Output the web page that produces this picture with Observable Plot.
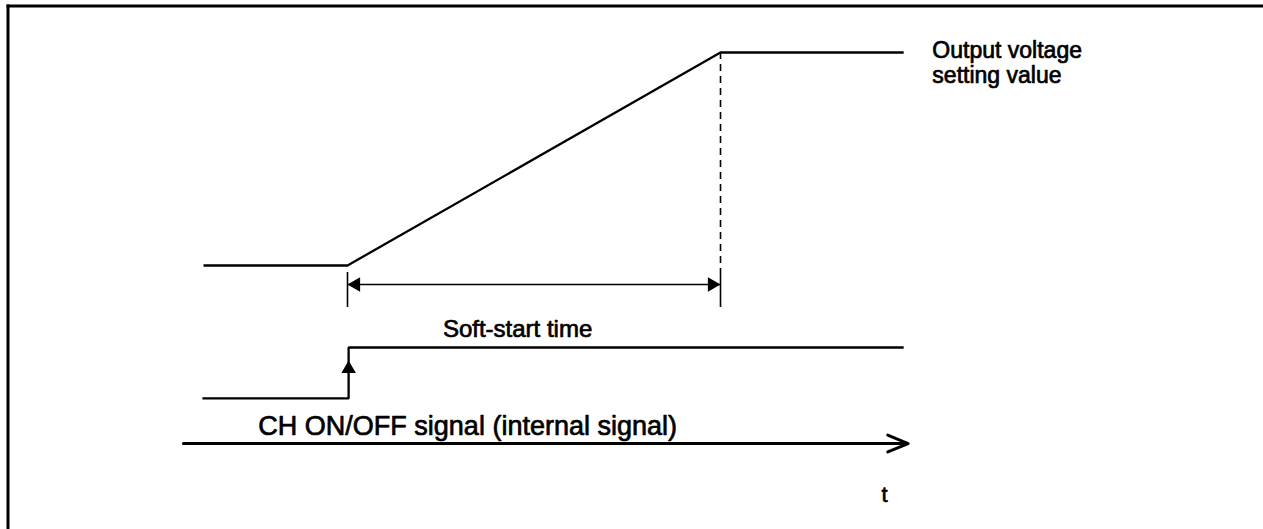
<!DOCTYPE html>
<html><head><meta charset="utf-8">
<script src="https://cdn.jsdelivr.net/npm/d3@7"></script>
<script src="https://cdn.jsdelivr.net/npm/@observablehq/plot@0.6"></script>
<style>
html,body{margin:0;padding:0;background:#fff;overflow:hidden;width:1263px;height:529px;}
#chart{position:absolute;left:0;top:0;}
</style></head><body>
<div id="chart"></div>
<script>
// Time unit: soft-start time = 1 (t = 0 when CH turns ON).
// Level unit: output voltage setting value = 1, initial output = 0.
const outT = [-0.386, 0, 1, 1.491];
const outV = [0, 0, 1, 1];
const sigT = [-0.389, 0.003, 0.003, 1.491];
const sigV = [-0.624, -0.624, -0.385, -0.385];
const axisT = [-0.44, 1.503];
const axisV = -0.836;
const spanT = [0, 1];
const spanV = -0.089;
const tickT = [0, 1];
const tickTop = [-0.033, -0.023];
const tickBottom = -0.197;
const dashTop = 1;
const upArrowV = -0.446;
// labels anchored at their left edge
const startText = ["Output voltage", "setting value", "CH ON/OFF signal (internal signal)"];
const startT = [1.568, 1.568, -0.239];
const startV = [0.972, 0.857, -0.795];
const startSize = [23, 23, 27];
// labels anchored at their centre
const midText = ["Soft-start time", "t"];
const midT = [0.456, 1.44];
const midV = [-0.338, -1.108];
const midSize = [24, 22];

const outLine = outT.map((t, i) => ({t, v: outV[i]}));
const sigLine = sigT.map((t, i) => ({t, v: sigV[i]}));
const startLabels = startText.map((text, i) => ({text, t: startT[i], v: startV[i], size: startSize[i]}));
const midLabels = midText.map((text, i) => ({text, t: midT[i], v: midV[i], size: midSize[i]}));
const ticks = tickT.map((t, i) => ({t, top: tickTop[i], bottom: tickBottom}));

const r = 5.4, off = 2 * 0.7776 * r;
const font = "'Liberation Sans', Arial, sans-serif";
const textStyle = {x: "t", y: "v", text: "text", fontSize: "size", lineAnchor: "bottom", fill: "#000", stroke: "#000", strokeWidth: 0.7, fontFamily: font};

const chart = Plot.plot({
  width: 1263,
  height: 529,
  marginTop: 5.5,
  marginLeft: 7.5,
  marginRight: -10,
  marginBottom: -10,
  x: {domain: [0, 1], range: [347, 720]},
  y: {domain: [0, 1], range: [265, 52]},
  axis: null,
  style: {background: "#fff", fontFamily: font},
  marks: [
    Plot.frame({anchor: "top", stroke: "#000", strokeWidth: 3}),
    Plot.frame({anchor: "left", stroke: "#000", strokeWidth: 3}),
    Plot.line(outLine, {x: "t", y: "v", stroke: "#000", strokeWidth: 2.3, strokeLinejoin: "miter", strokeLinecap: "butt"}),
    Plot.line(sigLine, {x: "t", y: "v", stroke: "#000", strokeWidth: 2.3, strokeLinejoin: "miter", strokeLinecap: "butt"}),
    Plot.ruleX([1], {y1: dashTop, y2: tickTop[1], stroke: "#000", strokeWidth: 1.6, strokeDasharray: "7,5"}),
    Plot.ruleX(ticks, {x: "t", y1: "top", y2: "bottom", stroke: "#000", strokeWidth: 1.6}),
    Plot.ruleY([spanV], {x1: spanT[0], x2: spanT[1], stroke: "#000", strokeWidth: 1.6}),
    Plot.dot([{t: spanT[0], v: spanV}], {x: "t", y: "v", symbol: "triangle", r, rotate: -90, dx: off, fill: "#000", stroke: null}),
    Plot.dot([{t: spanT[1], v: spanV}], {x: "t", y: "v", symbol: "triangle", r, rotate: 90, dx: -off, fill: "#000", stroke: null}),
    Plot.dot([{t: sigT[1], v: upArrowV}], {x: "t", y: "v", symbol: "triangle", r, dy: off, fill: "#000", stroke: null}),
    Plot.arrow([{x1: axisT[0], x2: axisT[1], y: axisV}], {x1: "x1", x2: "x2", y1: "y", y2: "y", stroke: "#000", strokeWidth: 3, headLength: 11, headAngle: 45}),
    Plot.text(startLabels, {...textStyle, textAnchor: "start"}),
    Plot.text(midLabels, {...textStyle, textAnchor: "middle"})
  ]
});
document.getElementById("chart").appendChild(chart);
</script>
</body></html>
